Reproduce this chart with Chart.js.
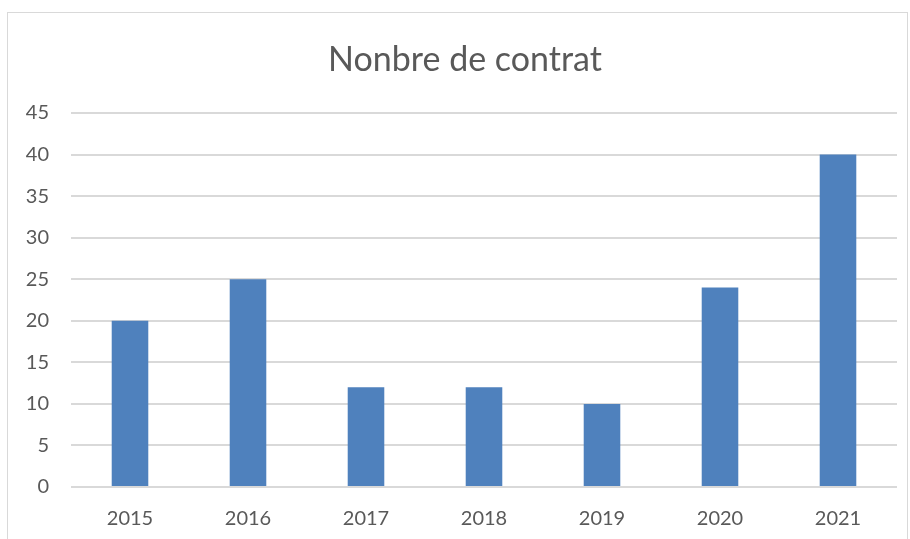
<!DOCTYPE html>
<html>
<head>
<meta charset="utf-8">
<script src="https://cdn.jsdelivr.net/npm/chart.js@4.4.0/dist/chart.umd.min.js"></script>
<style>
  html, body { margin: 0; padding: 0; background: #fff; }
  #wrap { position: relative; width: 910px; height: 539px; }
</style>
</head>
<body>
<div id="wrap"><canvas id="chart" width="910" height="539"></canvas></div>
<script>
const annees = ["2015", "2016", "2017", "2018", "2019", "2020", "2021"];
const contrats = [20, 25, 12, 12, 10, 24, 40];
const titre = "Nonbre de contrat";

// cadre gris + titre (centré comme dans Excel, un peu à droite)
const cadre = {
  id: "cadre",
  beforeDraw(chart) {
    const c = chart.ctx;
    c.save();
    c.strokeStyle = "#d9d9d9";
    c.lineWidth = 1;
    c.strokeRect(7.5, 12.5, 900, 600);
    c.fillStyle = "#595959";
    c.font = "34px Lato";
    c.textAlign = "center";
    c.textBaseline = "alphabetic";
    c.fillText(titre, 465, 71);
    c.restore();
  },
};

const ctx = document.getElementById("chart").getContext("2d");
const chart = new Chart(ctx, {
  type: "bar",
  data: {
    labels: annees,
    datasets: [
      {
        label: titre,
        data: contrats,
        backgroundColor: "#4f81bd",
        categoryPercentage: 1,
        barPercentage: 0.31,
      },
    ],
  },
  options: {
    responsive: false,
    animation: false,
    layout: { padding: { left: 0, right: 13, top: 113, bottom: 0 } },
    plugins: {
      legend: { display: false },
      tooltip: { enabled: false },
      title: { display: false },
    },
    scales: {
      x: {
        grid: { display: false, drawTicks: false },
        border: { display: false },
        ticks: {
          color: "#595959",
          font: { family: "Lato", size: 20 },
          padding: 20,
        },
        afterFit(scale) { scale.height = 52; },
      },
      y: {
        min: 0,
        max: 45,
        ticks: {
          stepSize: 5,
          color: "#595959",
          font: { family: "Lato", size: 20 },
          padding: 22,
        },
        grid: { color: "#d9d9d9", lineWidth: 2, drawTicks: false },
        border: { display: false },
        afterFit(scale) { scale.width = 71; },
      },
    },
  },
  plugins: [cadre],
});
</script>
</body>
</html>
